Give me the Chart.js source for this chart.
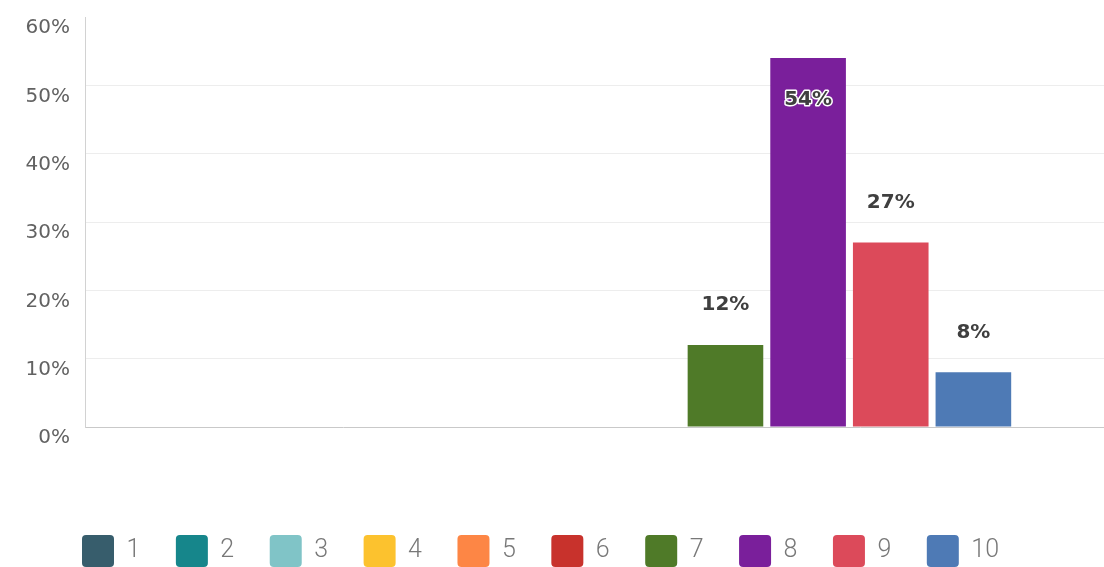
<!DOCTYPE html>
<html>
<head>
<meta charset="utf-8">
<script src="https://cdn.jsdelivr.net/npm/chart.js@4.4.1/dist/chart.umd.min.js"></script>
<style>
  html, body { margin: 0; padding: 0; background: #ffffff; overflow: hidden; }
  #wrap { width: 1104px; height: 567px; overflow: hidden; position: relative; }
  #chart { position: absolute; left: 0; top: 0; }
</style>
</head>
<body>
<div id="wrap"><canvas id="chart" width="1118" height="577"></canvas></div>
<script>
// Score categories (one dataset per score so each gets its own legend entry)
const scores = ['1', '2', '3', '4', '5', '6', '7', '8', '9', '10'];
// Share of responses per score, in percent
const shares = [0, 0, 0, 0, 0, 0, 12, 54, 27, 8];
// Fill colour per score
const scoreColors = ['#375d6c', '#16868b', '#80c4c7', '#fcc22e', '#fd8645',
                     '#c8322c', '#4f7a28', '#7a1f9b', '#dc4a5a', '#4e7ab5'];
// Value axis range and step
const yMin = 0, yMax = 60, yStep = 10;

const datasets = scores.map((s, i) => ({
  label: s,
  data: [shares[i]],
  backgroundColor: scoreColors[i],
  borderWidth: 0,
  categoryPercentage: 0.8,
  barPercentage: 0.915
}));

// Writes the percentage above each bar, or inside it when there is no room
const valueLabels = {
  id: 'valueLabels',
  afterDatasetsDraw(chart) {
    const { ctx, chartArea } = chart;
    ctx.save();
    ctx.font = 'bold 20px "DejaVu Sans"';
    ctx.textAlign = 'center';
    ctx.textBaseline = 'middle';
    ctx.lineJoin = 'round';
    chart.data.datasets.forEach((ds, i) => {
      const v = ds.data[0];
      if (!v) return;
      const bar = chart.getDatasetMeta(i).data[0];
      let y = bar.y - 40;
      if (y < chartArea.top + 12) y = bar.y + 42;
      const text = v + '%';
      ctx.lineWidth = 3;
      ctx.strokeStyle = '#ffffff';
      ctx.strokeText(text, bar.x, y);
      ctx.fillStyle = '#3f3f3f';
      ctx.fillText(text, bar.x, y);
    });
    ctx.restore();
  }
};

// Starts the legend row under the value axis instead of at the canvas edge
const legendIndent = {
  id: 'legendIndent',
  afterLayout(chart) {
    if (chart.legend) chart.legend.left = 46.5;
  }
};

new Chart(document.getElementById('chart'), {
  type: 'bar',
  data: { labels: [''], datasets },
  options: {
    responsive: false,
    animation: false,
    layout: { padding: { top: 17, left: 0, right: 0, bottom: 0 } },
    plugins: {
      tooltip: { enabled: false },
      legend: {
        position: 'bottom',
        align: 'start',
        labels: {
          boxWidth: 32,
          boxHeight: 32,
          padding: 35.5,
          useBorderRadius: true,
          borderRadius: 4,
          color: '#787878',
          font: { family: 'Roboto', size: 25, weight: '300' }
        }
      }
    },
    scales: {
      x: {
        grid: { display: false },
        border: { display: true, color: '#c9c9c9', width: 1 },
        ticks: { display: false },
        afterFit(scale) { scale.height = 72.5; }
      },
      y: {
        min: yMin,
        max: yMax,
        grid: {
          drawTicks: false,
          color: ctx => (ctx.tick && ctx.tick.value > yMin && ctx.tick.value < yMax) ? '#ededed' : 'rgba(0,0,0,0)',
          lineWidth: 1
        },
        border: { display: true, color: '#d2d2d2', width: 1 },
        ticks: {
          stepSize: yStep,
          padding: 15,
          labelOffset: 11,
          color: '#626262',
          font: { family: '"DejaVu Sans"', size: 20 },
          callback: v => v + '%'
        },
        afterFit(scale) {
          scale.width = 85;
          scale.paddingTop = 0;
          scale.paddingBottom = 0;
        }
      }
    }
  },
  plugins: [valueLabels, legendIndent]
});
</script>
</body>
</html>
